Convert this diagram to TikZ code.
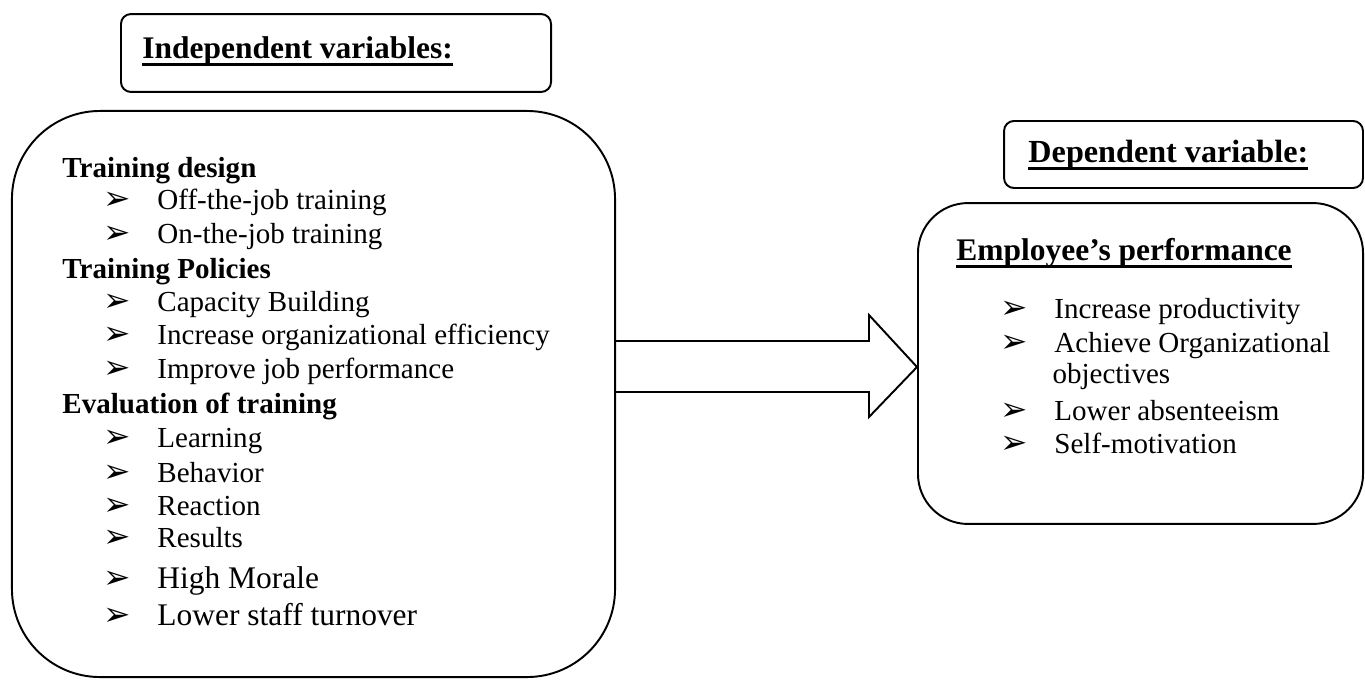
\documentclass[tikz,border=0pt]{standalone}
\usepackage{fontspec}
\setmainfont{Liberation Serif}
\newfontfamily\dingfont{DejaVu Sans}
\newcommand{\bul}{\makebox[19.4pt][l]{\hspace{-3pt}\dingfont\fontsize{13.5}{13.5}\selectfont ➢}}
\newcommand{\ulx}[1]{\setbox0\hbox{#1}\rlap{\rule[-3.3pt]{\wd0}{1.1pt}}\box0}
\tikzset{
    box/.style={draw, line width=0.8pt, inner sep=0pt},
    item/.style={anchor=base west, inner sep=0pt, font=\fontsize{12}{14}\selectfont},
    head/.style={anchor=base west, inner sep=0pt, font=\fontsize{12}{14}\selectfont\bfseries},
    title/.style={anchor=base west, inner sep=0pt, font=\fontsize{13}{15}\selectfont\bfseries}
}
\begin{document}
\begin{tikzpicture}[x=0.4132pt, y=-0.4132pt]
            \useasboundingbox (0,0) rectangle (1365,679);

            \node[box, rounded corners=4.1pt, minimum width=177.7pt, minimum height=32.2pt] at (336, 53) (indep) {};
            \node[box, rounded corners=36.4pt, minimum width=249.2pt, minimum height=233.9pt] at (313.5, 394) (lbox) {};
            \node[box, rounded corners=4.1pt, minimum width=148.3pt, minimum height=27.7pt] at (1183.5, 154.5) (dep) {};
            \node[box, rounded corners=20.7pt, minimum width=183.9pt, minimum height=132.6pt] at (1140.5, 363.5) (rbox) {};

            \node[title] at (142, 58) (indeptxt) {\ulx{Independent variables:}};
            \node[title, font=\fontsize{13.3}{15}\selectfont\bfseries] at (1028, 162) (deptxt) {\ulx{Dependent variable:}};

            \node[head] at (62, 177) (h1) {Training design};
            \node[item] at (110, 209) (a1) {\bul Off-the-job training};
            \node[item] at (110, 243) (a2) {\bul On-the-job training};
            \node[head] at (62, 278) (h2) {Training Policies};
            \node[item] at (110, 311) (b1) {\bul Capacity Building};
            \node[item] at (110, 344) (b2) {\bul Increase organizational efficiency};
            \node[item] at (110, 378) (b3) {\bul Improve job performance};
            \node[head] at (62, 413) (h3) {Evaluation of training};
            \node[item] at (110, 447) (c1) {\bul Learning};
            \node[item] at (110, 482) (c2) {\bul Behavior};
            \node[item] at (110, 515) (c3) {\bul Reaction};
            \node[item] at (110, 547) (c4) {\bul Results};
            \node[item, font=\fontsize{13}{15}\selectfont] at (110, 588) (c5) {\bul High Morale};
            \node[item, font=\fontsize{13}{15}\selectfont] at (110, 625) (c6) {\bul Lower staff turnover};

            \node[title] at (956, 260) (perf) {\ulx{Employee’s performance}};
            \node[item] at (1007, 318) (d1) {\bul Increase productivity};
            \node[item] at (1007, 352) (d2) {\bul Achieve Organizational};
            \node[item] at (1052, 383) (d2b) {objectives};
            \node[item] at (1007, 420) (d3) {\bul Lower absenteeism};
            \node[item] at (1007, 453) (d4) {\bul Self-motivation};

            \draw[line width=0.8pt, line join=miter] (lbox.east |- 0,341) -- (869,341) -- (869,315) -- (rbox.west |- 0,367) -- (869,417) -- (869,392) -- (lbox.east |- 0,392);
        \end{tikzpicture}
\end{document}
